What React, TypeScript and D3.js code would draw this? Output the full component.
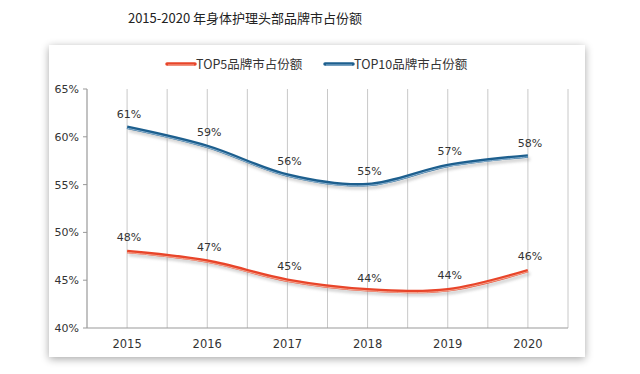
import React, { useRef, useEffect } from 'react';
import * as d3 from 'd3';

const years = ['2015', '2016', '2017', '2018', '2019', '2020'];
const top5 = [48, 47, 45, 44, 44, 46];
const top10 = [61, 59, 56, 55, 57, 58];
const yTicks = [40, 45, 50, 55, 60, 65];

const W = 640;
const H = 374;

const App: React.FC = () => {
    const svgRef = useRef<SVGSVGElement>(null);

    useEffect(() => {
        const svg = d3.select(svgRef.current);
        svg.selectAll('*').remove();

        const plot = { left: 87, right: 568, top: 89, bottom: 328 };

        const x = d3.scaleBand<string>()
            .domain(years)
            .range([plot.left, plot.right])
            .padding(0);
        const cx = (d: string) => (x(d) || 0) + x.bandwidth() / 2;

        const y = d3.scaleLinear().domain([40, 65]).range([plot.bottom, plot.top]);

        const defs = svg.append('defs');
        const shadow = defs.append('filter').attr('id', 'boxShadow')
            .attr('x', '-10%').attr('y', '-10%').attr('width', '120%').attr('height', '120%');
        shadow.append('feGaussianBlur').attr('in', 'SourceAlpha').attr('stdDeviation', 4);
        shadow.append('feOffset').attr('dx', 0).attr('dy', 2).attr('result', 'b');
        shadow.append('feComponentTransfer').append('feFuncA').attr('type', 'linear').attr('slope', 0.35);
        const m = shadow.append('feMerge');
        m.append('feMergeNode');
        m.append('feMergeNode').attr('in', 'SourceGraphic');

        const lineShadow = defs.append('filter').attr('id', 'lineShadow')
            .attr('x', '-10%').attr('y', '-30%').attr('width', '120%').attr('height', '160%');
        lineShadow.append('feGaussianBlur').attr('stdDeviation', 1.5);

        // background
        svg.append('rect').attr('width', W).attr('height', H).attr('fill', '#ffffff');

        // title
        svg.append('text')
            .attr('x', 245).attr('y', 23)
            .attr('text-anchor', 'middle')
            .attr('font-family', '"Noto Sans CJK SC", sans-serif')
            .attr('font-size', 13)
            .attr('fill', '#222')
            .text('2015-2020 年身体护理头部品牌市占份额');

        // chart frame
        svg.append('rect')
            .attr('x', 49).attr('y', 45).attr('width', 536).attr('height', 312)
            .attr('fill', '#ffffff')
            .attr('filter', 'url(#boxShadow)');

        // vertical gridlines at centers and band edges
        const gridXs: number[] = [];
        years.forEach((d, i) => {
            if (i > 0) gridXs.push(x(d) || 0);
            gridXs.push(cx(d));
        });
        gridXs.push(plot.right);
        svg.append('g').selectAll('line').data(gridXs).join('line')
            .attr('x1', d => d).attr('x2', d => d)
            .attr('y1', plot.top).attr('y2', plot.bottom)
            .attr('stroke', '#c8c8c8').attr('stroke-width', 1);

        // axes lines
        svg.append('line')
            .attr('x1', plot.left).attr('x2', plot.left)
            .attr('y1', plot.top).attr('y2', plot.bottom)
            .attr('stroke', '#999').attr('stroke-width', 1.2);
        svg.append('line')
            .attr('x1', plot.left).attr('x2', plot.right)
            .attr('y1', plot.bottom).attr('y2', plot.bottom)
            .attr('stroke', '#999').attr('stroke-width', 1.2);

        // y ticks
        svg.append('g').selectAll('line').data(yTicks).join('line')
            .attr('x1', plot.left - 4).attr('x2', plot.left)
            .attr('y1', d => y(d)).attr('y2', d => y(d))
            .attr('stroke', '#999');
        svg.append('g').selectAll('text').data(yTicks).join('text')
            .attr('x', plot.left - 8).attr('y', d => y(d) + 4)
            .attr('text-anchor', 'end')
            .attr('font-family', '"DejaVu Sans", sans-serif')
            .attr('font-size', 11)
            .attr('fill', '#333')
            .text(d => `${d}%`);

        // x labels
        svg.append('g').selectAll('text').data(years).join('text')
            .attr('x', d => cx(d)).attr('y', plot.bottom + 20)
            .attr('text-anchor', 'middle')
            .attr('font-family', '"DejaVu Sans", sans-serif')
            .attr('font-size', 11.5)
            .attr('fill', '#333')
            .text(d => d);

        const line = d3.line<number>()
            .x((_, i) => cx(years[i]))
            .y(d => y(d))
            .curve(d3.curveCardinal.tension(0));

        const series = [
            { values: top5, color: '#e8452a', light: '#f6b7a4', labelDy: [-11, -10, -10, -8, -11, -11] },
            { values: top10, color: '#1d5f8e', light: '#9fc2dc', labelDy: [-9, -10, -10, -10, -10, -9] },
        ];

        series.forEach(s => {
            svg.append('path').datum(s.values)
                .attr('d', line)
                .attr('fill', 'none')
                .attr('stroke', '#999')
                .attr('stroke-width', 3)
                .attr('opacity', 0.5)
                .attr('transform', 'translate(2,3)')
                .attr('filter', 'url(#lineShadow)');
            svg.append('path').datum(s.values)
                .attr('d', line)
                .attr('fill', 'none')
                .attr('stroke', s.color)
                .attr('stroke-width', 3.5);
            svg.append('path').datum(s.values)
                .attr('d', line)
                .attr('fill', 'none')
                .attr('stroke', s.light)
                .attr('stroke-width', 0.9)
                .attr('transform', 'translate(0,1)');

            svg.append('g').selectAll('text').data(s.values).join('text')
                .attr('x', (_, i) => cx(years[i]) + 2)
                .attr('y', (d, i) => y(d) + s.labelDy[i])
                .attr('text-anchor', 'middle')
                .attr('font-family', '"DejaVu Sans", sans-serif')
                .attr('font-size', 11)
                .attr('fill', '#333')
                .text(d => `${d}%`);
        });

        // legend
        const legend = [
            { label: 'TOP5品牌市占份额', color: series[0].color, light: series[0].light, x: 167 },
            { label: 'TOP10品牌市占份额', color: series[1].color, light: series[1].light, x: 325 },
        ];
        legend.forEach(l => {
            const g = svg.append('g');
            g.append('line')
                .attr('x1', l.x).attr('x2', l.x + 28)
                .attr('y1', 64).attr('y2', 64)
                .attr('stroke', l.color).attr('stroke-width', 3.5)
                .attr('stroke-linecap', 'round');
            g.append('line')
                .attr('x1', l.x + 1).attr('x2', l.x + 27)
                .attr('y1', 65).attr('y2', 65)
                .attr('stroke', l.light).attr('stroke-width', 0.9);
            g.append('text')
                .attr('x', l.x + 29).attr('y', 69)
                .attr('font-family', '"Noto Sans CJK SC", sans-serif')
                .attr('font-size', 12.5)
                .attr('fill', '#333')
                .text(l.label);
        });
    }, []);

    return (
        <svg ref={svgRef} width={W} height={H}
            style={{ position: 'absolute', left: 0, top: 0, display: 'block' }} />
    );
};

export default App;
